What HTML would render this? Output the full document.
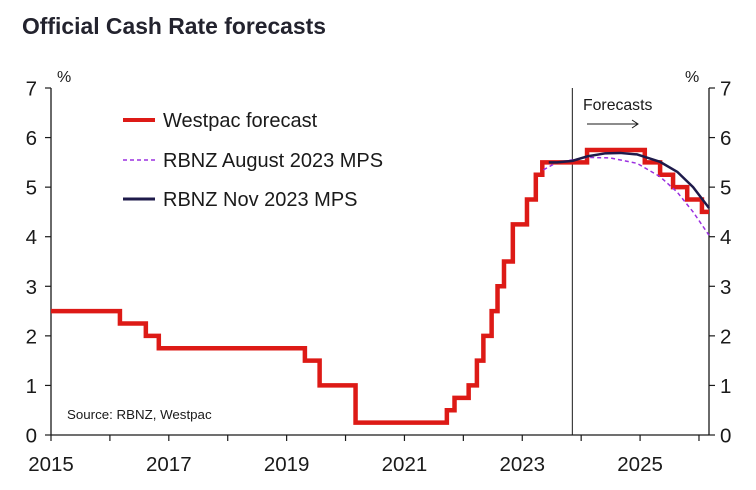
<!DOCTYPE html>
<html><head><meta charset="utf-8">
<style>
body{margin:0;background:#fff;}
svg{display:block;font-family:"Liberation Sans",sans-serif;}
</style></head>
<body>
<svg id="chart" width="756" height="490" viewBox="0 0 756 490" xmlns="http://www.w3.org/2000/svg">
<text x="22" y="34" font-size="23" font-weight="bold" fill="#23232e" textLength="304" lengthAdjust="spacingAndGlyphs">Official Cash Rate forecasts</text>
<g id="axes"></g>
<g id="series"></g>
<g>
 <line x1="123" y1="120" x2="155" y2="120" stroke="#dd1a16" stroke-width="4"/>
 <text x="163" y="127" font-size="20" fill="#1a1a1a">Westpac forecast</text>
 <line x1="123" y1="160" x2="155" y2="160" stroke="#9b30e0" stroke-width="1.5" stroke-dasharray="4,3"/>
 <text x="163" y="167" font-size="20" fill="#1a1a1a">RBNZ August 2023 MPS</text>
 <line x1="123" y1="199" x2="155" y2="199" stroke="#1e1a4a" stroke-width="3"/>
 <text x="163" y="206" font-size="20" fill="#1a1a1a">RBNZ Nov 2023 MPS</text>
</g>
<text x="67" y="419" font-size="13.3" fill="#1a1a1a">Source: RBNZ, Westpac</text>
<text x="583" y="110" font-size="15.8" fill="#1a1a1a">Forecasts</text>
<line x1="587" y1="124" x2="638" y2="124" stroke="#1a1a1a" stroke-width="1"/>
<polyline points="632,120 638,124 632,128" fill="none" stroke="#1a1a1a" stroke-width="1"/>
</svg>
<script>
const yearTicks=[2015,2016,2017,2018,2019,2020,2021,2022,2023,2024,2025,2026];
const yearLabels=[2015,2017,2019,2021,2023,2025];
const yTicks=[0,1,2,3,4,5,6,7];
const westpacStepYears=[2015,2016.17,2016.61,2016.83,2019.31,2019.56,2020.17,2021.72,2021.85,2022.09,2022.23,2022.34,2022.48,2022.58,2022.69,2022.84,2023.08,2023.23,2023.34,2024.10,2025.08,2025.34,2025.56,2025.80,2026.05];
const westpacValues=[2.5,2.25,2.0,1.75,1.5,1.0,0.25,0.5,0.75,1.0,1.5,2.0,2.5,3.0,3.5,4.25,4.75,5.25,5.5,5.75,5.5,5.25,5.0,4.75,4.5];
const westpacEnd=2026.17;
const novYears=[2023.45,2023.59,2023.85,2024.10,2024.40,2024.66,2024.95,2025.34,2025.63,2025.90,2026.17];
const novValues=[5.5,5.5,5.53,5.62,5.68,5.69,5.66,5.51,5.31,5.0,4.58];
const augYears=[2023.36,2023.59,2023.85,2024.10,2024.49,2024.95,2025.34,2025.63,2025.90,2026.17];
const augValues=[5.35,5.5,5.55,5.6,5.59,5.48,5.21,4.9,4.5,4.03];
const forecastStart=2023.85;

const X0=51,X1=709,Y0=435,Y1=88,YEAR0=2015,YEAR1=2026.17;
const sx=y=>X0+(y-YEAR0)/(YEAR1-YEAR0)*(X1-X0);
const sy=v=>Y0-v/7*(Y0-Y1);
const NS="http://www.w3.org/2000/svg";
function mk(tag,attrs,parent,text){const e=document.createElementNS(NS,tag);for(const k in attrs)e.setAttribute(k,attrs[k]);if(text!==undefined)e.textContent=text;parent.appendChild(e);return e;}
const axes=document.getElementById('axes'),series=document.getElementById('series');

let e;
e=mk('line',{x1:X0,y1:Y1,x2:X0,y2:Y0,stroke:'#1a1a1a','stroke-width':1.3},axes);


e=mk('line',{x1:X1,y1:Y1,x2:X1,y2:Y0,stroke:'#1a1a1a','stroke-width':1.3},axes);


e=mk('line',{x1:X0,y1:Y0,x2:X1,y2:Y0,stroke:'#1a1a1a','stroke-width':1.3},axes);


e=mk('text',{x:57,y:82,'font-size':16,fill:'#1a1a1a'},axes,'%');


e=mk('text',{x:685,y:82,'font-size':16,fill:'#1a1a1a'},axes,'%');


yTicks.forEach(v=>{
  const y=sy(v);
  mk('line',{x1:X0-6,y1:y,x2:X0,y2:y,stroke:'#1a1a1a','stroke-width':1.2},axes);
  mk('line',{x1:X1,y1:y,x2:X1+6,y2:y,stroke:'#1a1a1a','stroke-width':1.2},axes);
  let t=mk('text',{x:37,y:y+7.5,'font-size':20.5,'text-anchor':'end',fill:'#1a1a1a'},axes,v);
  
  
  t=mk('text',{x:720,y:y+7.5,'font-size':20.5,fill:'#1a1a1a'},axes,v);
  
  
});
yearTicks.forEach(yr=>{const x=sx(yr);mk('line',{x1:x,y1:Y0,x2:x,y2:Y0+6,stroke:'#1a1a1a','stroke-width':1.2},axes);});
yearLabels.forEach(yr=>{
  const t=mk('text',{x:sx(yr),y:471,'font-size':20.5,'text-anchor':'middle',fill:'#1a1a1a'},axes,yr);
  
  
});
e=mk('line',{x1:sx(forecastStart),y1:Y1,x2:sx(forecastStart),y2:Y0,stroke:'#1a1a1a','stroke-width':1},axes);



let pts=[];
westpacStepYears.forEach((yr,i)=>{
  const next=i+1<westpacStepYears.length?westpacStepYears[i+1]:westpacEnd;
  pts.push(sx(yr)+','+sy(westpacValues[i]));
  pts.push(sx(next)+','+sy(westpacValues[i]));
});
e=mk('polyline',{points:pts.join(' '),fill:'none',stroke:'#dd1a16','stroke-width':4.5,'stroke-linejoin':'miter'},series);



e=mk('polyline',{points:augYears.map((y,i)=>sx(y)+','+sy(augValues[i])).join(' '),fill:'none',stroke:'#9b30e0','stroke-width':1.5,'stroke-dasharray':'4,3'},series);



e=mk('polyline',{points:novYears.map((y,i)=>sx(y)+','+sy(novValues[i])).join(' '),fill:'none',stroke:'#1e1a4a','stroke-width':2.5,'stroke-linejoin':'round'},series);


</script>
</body></html>
